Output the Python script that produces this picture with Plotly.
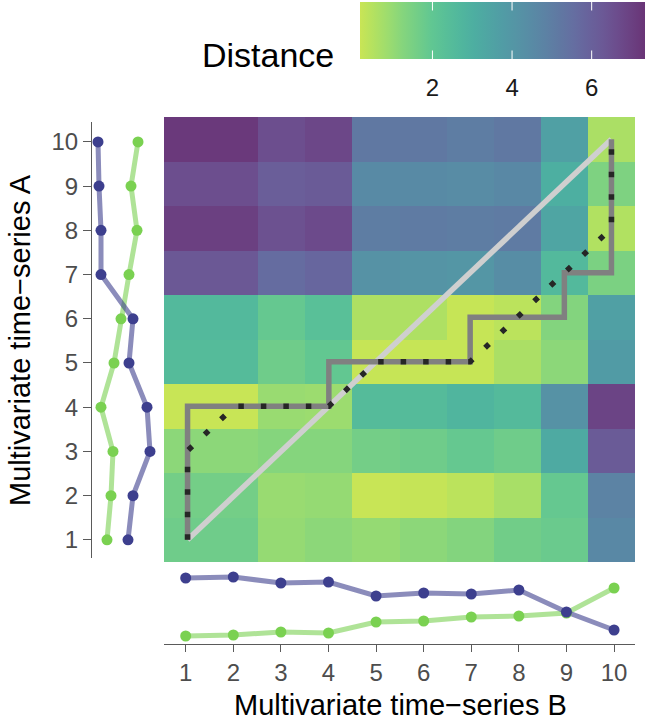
import plotly.graph_objects as go
from plotly.colors import sample_colorscale, unlabel_rgb

# ---------------- data ----------------
idx_a = list(range(1, 11))          # time index of series A (rows)
idx_b = list(range(1, 11))          # time index of series B (columns)

# distance matrix: rows = A1..A10, columns = B1..B10
dist = [
    [1.70, 1.70, 1.00, 1.15, 1.00, 1.15, 1.30, 1.65, 1.80, 4.60],
    [1.60, 1.60, 0.95, 1.00, 0.20, 0.25, 0.40, 0.70, 1.90, 4.80],
    [1.15, 1.15, 1.25, 1.25, 1.60, 1.70, 1.90, 1.70, 3.20, 6.20],
    [0.20, 0.20, 0.95, 0.90, 2.50, 2.50, 2.75, 2.55, 4.20, 6.90],
    [2.50, 2.50, 1.70, 1.95, 0.22, 0.22, 0.22, 0.65, 1.15, 3.80],
    [2.60, 2.60, 1.90, 2.30, 0.60, 0.60, 0.22, 0.40, 1.30, 3.60],
    [6.30, 6.30, 5.60, 5.80, 4.20, 4.10, 4.05, 4.40, 2.60, 1.45],
    [7.00, 7.00, 6.50, 6.70, 5.00, 5.10, 5.00, 5.10, 3.40, 0.55],
    [6.60, 6.60, 6.10, 6.20, 4.50, 4.50, 4.45, 4.60, 3.00, 1.40],
    [7.20, 7.20, 6.60, 6.80, 5.20, 5.20, 5.00, 5.20, 3.60, 0.65],
]
dist_min, dist_max = 0.18, 7.34
cb_ticks = [2, 4, 6]

# multivariate series A (two variables)
a_var1 = [3.6, 4.1, 5.8, 5.5, 3.7, 4.1, 0.9, 0.9, 0.7, 0.6]   # dark blue
a_var2 = [1.5, 1.9, 2.1, 0.9, 2.2, 2.9, 3.7, 4.5, 3.9, 4.6]   # green
# multivariate series B (two variables)
b_var1 = [6.6, 6.7, 6.1, 6.2, 4.8, 5.1, 5.0, 5.4, 3.2, 1.4]   # dark blue
b_var2 = [0.8, 0.9, 1.2, 1.1, 2.2, 2.3, 2.7, 2.8, 3.1, 5.6]   # green

# warping paths (B index, A index)
diag_b, diag_a = [1, 10], [1, 10]
path1_b = [1, 1, 4, 4, 7, 7, 9, 9, 10, 10]
path1_a = [1, 4, 4, 5, 5, 6, 6, 7, 7, 10]
path2_b = [1, 1, 2, 4, 5, 7, 10, 10]
path2_a = [1, 3, 4, 4, 5, 5, 8, 10]

# ---------------- style ----------------
W, H = 646, 725
FONT = "Liberation Sans"
BLUE, GREEN = (61, 63, 142), (122, 209, 81)
CB_X0, CB_LEN, CB_TOP, CB_THICK = 360, 285, 2, 57

def px(v):
    return v / W

def py(v):
    return 1 - v / H

# viridis reversed (0.9 -> 0) at 80 % opacity over white
n = 21
cols = sample_colorscale("Viridis", [0.9 * (1 - i / (n - 1)) for i in range(n)])
cscale = []
for i, c in enumerate(cols):
    r, g, b = unlabel_rgb(c)
    r, g, b = [0.8 * ch + 0.2 * 255 for ch in (r, g, b)]
    cscale.append([i / (n - 1), f"rgb({r:.0f},{g:.0f},{b:.0f})"])

fig = go.Figure()

fig.add_trace(go.Heatmap(
    x=idx_b, y=idx_a, z=dist, zmin=dist_min, zmax=dist_max,
    colorscale=cscale, hoverinfo="skip",
    colorbar=dict(orientation="h", x=px(CB_X0), xanchor="left", y=py(CB_TOP), yanchor="top",
                  len=CB_LEN, lenmode="pixels", thickness=CB_THICK, thicknessmode="pixels",
                  xpad=0, ypad=0, outlinewidth=0, tickvals=cb_ticks,
                  ticks="outside", ticklen=9, tickcolor="rgba(0,0,0,0)", tickwidth=1,
                  tickfont=dict(family=FONT, size=24, color="#1a1a1a")),
    xaxis="x", yaxis="y"))

fig.add_trace(go.Scatter(x=diag_b, y=diag_a, mode="lines",
                         line=dict(color="#cfcfcf", width=5.5), hoverinfo="skip"))
fig.add_trace(go.Scatter(x=path1_b, y=path1_a, mode="lines",
                         line=dict(color="#808080", width=5.5), hoverinfo="skip"))
fig.add_trace(go.Scatter(x=path2_b, y=path2_a, mode="lines",
                         line=dict(color="#262626", width=5.5, dash="5.5px,17px"),
                         hoverinfo="skip"))

def rgba(c, a):
    return f"rgba({c[0]},{c[1]},{c[2]},{a})"

def rgb(c):
    return f"rgb({c[0]},{c[1]},{c[2]})"

# left panel: series A
for vals, c in ((a_var2, GREEN), (a_var1, BLUE)):
    fig.add_trace(go.Scatter(x=vals, y=idx_a, mode="lines", xaxis="x2", yaxis="y2",
                             line=dict(color=rgba(c, 0.6), width=5), hoverinfo="skip"))
for vals, c in ((a_var2, GREEN), (a_var1, BLUE)):
    fig.add_trace(go.Scatter(x=vals, y=idx_a, mode="markers", xaxis="x2", yaxis="y2",
                             marker=dict(color=rgb(c), size=11), hoverinfo="skip"))
# bottom panel: series B
for vals, c in ((b_var2, GREEN), (b_var1, BLUE)):
    fig.add_trace(go.Scatter(x=idx_b, y=vals, mode="lines", xaxis="x3", yaxis="y3",
                             line=dict(color=rgba(c, 0.6), width=5), hoverinfo="skip"))
for vals, c in ((b_var2, GREEN), (b_var1, BLUE)):
    fig.add_trace(go.Scatter(x=idx_b, y=vals, mode="markers", xaxis="x3", yaxis="y3",
                             marker=dict(color=rgb(c), size=11), hoverinfo="skip"))

hidden = dict(visible=False, fixedrange=True)
tickfont = dict(family=FONT, size=24, color="#4d4d4d")

annotations = [
    dict(text="Multivariate time−series B", xref="paper", yref="paper",
         x=px(400), y=py(705), xanchor="center", yanchor="middle", showarrow=False,
         font=dict(family=FONT, size=29, color="black")),
    dict(text="Multivariate time−series A", xref="paper", yref="paper",
         x=px(20), y=py(340), xanchor="center", yanchor="middle", showarrow=False,
         textangle=-90, font=dict(family=FONT, size=29, color="black")),
    dict(text="Distance", xref="paper", yref="paper",
         x=px(336), y=py(55), xanchor="right", yanchor="middle", showarrow=False,
         font=dict(family=FONT, size=34, color="black")),
]
# white tick marks on the colour bar (top and bottom edges)
for v in cb_ticks:
    xx = px(CB_X0 + (v - dist_min) / (dist_max - dist_min) * CB_LEN)
    for ya, dy in ((CB_TOP, 10), (CB_TOP + CB_THICK, -10)):
        annotations.append(dict(text="", xref="paper", yref="paper", x=xx, y=py(ya),
                                showarrow=True, arrowhead=0, arrowwidth=1,
                                arrowcolor="white", ax=0, ay=dy, standoff=0,
                                startstandoff=0))

fig.update_layout(
    width=W, height=H, margin=dict(l=0, r=0, t=0, b=0),
    paper_bgcolor="white", plot_bgcolor="white", showlegend=False,
    font=dict(family=FONT, color="black"),
    xaxis=dict(domain=[px(164), px(635)], range=[0.5, 10.5], **hidden),
    yaxis=dict(domain=[py(562), py(117)], range=[0.5, 10.5], **hidden),
    xaxis2=dict(domain=[px(92), px(164)], range=[0, 7.2], anchor="y2", **hidden),
    yaxis2=dict(domain=[py(558), py(122)], range=[0.59, 10.45], anchor="x2",
                tickvals=idx_a, showline=True, linecolor="#5a5a5a", linewidth=1,
                ticks="outside", ticklen=8, tickcolor="#5a5a5a", showgrid=False,
                zeroline=False, tickfont=tickfont, fixedrange=True),
    xaxis3=dict(domain=[px(164), px(635)], range=[0.544, 10.44], anchor="y3",
                tickvals=idx_b, showline=True, linecolor="#5a5a5a", linewidth=1,
                ticks="outside", ticklen=7, tickcolor="#5a5a5a", showgrid=False,
                zeroline=False, tickfont=tickfont, fixedrange=True),
    yaxis3=dict(domain=[py(644), py(565)], range=[0, 7.9], anchor="x3", **hidden),
    annotations=annotations,
)

fig.write_html("out.html")
